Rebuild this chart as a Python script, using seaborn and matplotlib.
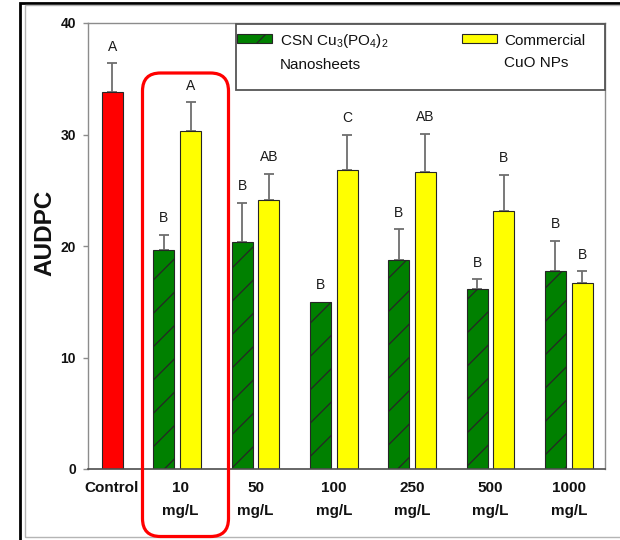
import numpy as np
import pandas as pd
import matplotlib
matplotlib.use("Agg")
import matplotlib.pyplot as plt
import seaborn as sns
from matplotlib.patches import Rectangle, FancyBboxPatch, Patch
from matplotlib.legend_handler import HandlerPatch
from matplotlib.transforms import IdentityTransform, ScaledTranslation

# ---------------- data ----------------
categories = ["Control", "10\nmg/L", "50\nmg/L", "100\nmg/L", "250\nmg/L", "500\nmg/L", "1000\nmg/L"]
series_names = ["CSN Cu$_3$(PO$_4$)$_2$\nNanosheets", "Commercial\nCuO NPs"]

control_value = 33.8
control_err = 2.6
control_letter = "A"

csn_values = [19.6, 20.4, 15.0, 18.75, 16.1, 17.75]
csn_err = [1.4, 3.5, 0.0, 2.75, 0.9, 2.7]
csn_letters = ["B", "B", "B", "B", "B", "B"]

cuo_values = [30.3, 24.1, 26.8, 26.6, 23.1, 16.65]
cuo_err = [2.6, 2.4, 3.2, 3.45, 3.3, 1.1]
cuo_letters = ["A", "AB", "C", "AB", "B", "B"]

y_ticks = [0, 10, 20, 30, 40]

# colours
GREEN = "#008000"
YELLOW = "#FFFF00"
RED = "#FF0000"

# ---------------- table ----------------
rows = [{"Concentration": categories[0], "Treatment": series_names[1],
         "AUDPC": control_value, "err": control_err, "letter": control_letter}]
for i, c in enumerate(categories[1:]):
    rows.append({"Concentration": c, "Treatment": series_names[0],
                 "AUDPC": csn_values[i], "err": csn_err[i], "letter": csn_letters[i]})
    rows.append({"Concentration": c, "Treatment": series_names[1],
                 "AUDPC": cuo_values[i], "err": cuo_err[i], "letter": cuo_letters[i]})
df = pd.DataFrame(rows)

sns.set_style("white")
plt.rcParams["font.family"] = ["Liberation Sans", "DejaVu Sans"]
plt.rcParams["mathtext.fontset"] = "custom"
plt.rcParams["mathtext.rm"] = "Liberation Sans"
plt.rcParams["mathtext.it"] = "Liberation Sans:italic"
plt.rcParams["mathtext.bf"] = "Liberation Sans:bold"
plt.rcParams["mathtext.default"] = "rm"
plt.rcParams["hatch.linewidth"] = 0.9

fig = plt.figure(figsize=(6.2, 5.4), dpi=100)
ax = fig.add_axes([88 / 620, 1 - 469 / 540, (605 - 88) / 620, (469 - 23) / 540])

sns.barplot(data=df, x="Concentration", y="AUDPC", hue="Treatment",
            order=categories, hue_order=series_names,
            palette={series_names[0]: GREEN, series_names[1]: YELLOW},
            saturation=1, width=0.68, gap=0.21, dodge=True, errorbar=None,
            edgecolor="#262626", linewidth=0.8, legend=False, ax=ax, zorder=2)

# identify bars, colour control, hatch CSN, add error bars + letters
for p in ax.patches:
    w = p.get_width()
    if w <= 0:
        continue
    cx = p.get_x() + w / 2
    idx = int(round(cx))
    h = p.get_height()
    if idx == 0:
        p.set_facecolor(RED)
        err, letter = control_err, control_letter
    elif cx < idx:
        p.set_hatch("/")
        err, letter = csn_err[idx - 1], csn_letters[idx - 1]
    else:
        err, letter = cuo_err[idx - 1], cuo_letters[idx - 1]
    if err > 0:
        ax.errorbar(cx, h, yerr=[[0], [err]], fmt="none", ecolor="#6e6e6e",
                    elinewidth=1.3, capsize=3.8, capthick=1.3, zorder=1)
    ax.annotate(letter, (cx, h + err), xytext=(0, 9), textcoords="offset points",
                ha="center", va="baseline", fontsize=10, color="#1a1a1a")

ax.set_xlim(-0.14, 6.463)
ax.set_ylim(0, 40)
ax.set_yticks(y_ticks)
ax.set_xlabel("")
ax.set_ylabel("AUDPC", fontsize=17.5, fontweight="bold", color="#111111")
ax.yaxis.set_label_coords(-0.061, 0.53)

ax.tick_params(axis="x", length=0, pad=9, labelsize=11, labelcolor="#111111")
ax.tick_params(axis="y", length=3.6, width=1, color="#8c8c8c", pad=5,
               labelsize=10, labelcolor="#111111", left=True)
xlabels = ax.get_xticklabels()
for t in xlabels:
    t.set_fontweight("bold")
    t.set_linespacing(1.75)
# the Control label sits under the red bar, slightly right of the group centre
xlabels[0].set_transform(xlabels[0].get_transform()
                         + ScaledTranslation(0.125, 0, fig.dpi_scale_trans))
xlabels[1].set_transform(xlabels[1].get_transform()
                         + ScaledTranslation(0.03, 0, fig.dpi_scale_trans))
for t in ax.get_yticklabels():
    t.set_fontweight("bold")

for s in ["left", "right", "top"]:
    ax.spines[s].set_color("#8c8c8c")
    ax.spines[s].set_linewidth(1.0)
ax.spines["bottom"].set_color("#4d4d4d")
ax.spines["bottom"].set_linewidth(1.2)

# legend frame + legend
ax.add_patch(Rectangle((0.286, (469 - 90) / 446), 1 - 0.286, (90 - 24) / 446,
                       transform=ax.transAxes, facecolor="white", edgecolor="#555555",
                       lw=1.3, zorder=4, clip_on=False))


def shifted_patch(legend, orig_handle, xdescent, ydescent, width, height, fontsize):
    return Rectangle((-xdescent, -ydescent + 0.88 * fontsize), width, height)


handles = [Patch(facecolor=GREEN, edgecolor="#262626", hatch="/", lw=0.8),
           Patch(facecolor=YELLOW, edgecolor="#262626", lw=0.8)]
leg = ax.legend(handles, series_names, loc="upper left", bbox_to_anchor=(0.288, 0.979),
                ncol=2, frameon=False, borderpad=0, borderaxespad=0,
                handlelength=2.3, handleheight=0.52, handletextpad=0.5,
                columnspacing=4.8, fontsize=11,
                handler_map={Patch: HandlerPatch(patch_func=shifted_patch)})
leg.set_zorder(5)
for t in leg.get_texts():
    t.set_linespacing(1.65)
    t.set_color("#111111")

# figure frames
fig.add_artist(Rectangle((20, -5), 610, 542, transform=IdentityTransform(),
                         fill=False, edgecolor="black", lw=2))
fig.add_artist(Rectangle((25, 3), 610, 532, transform=IdentityTransform(),
                         fill=False, edgecolor="#b5b5b5", lw=1))

# red highlight box around 10 mg/L
fig.add_artist(FancyBboxPatch((142.5, 3.5), 86, 463.5,
                              boxstyle="round,pad=0,rounding_size=18",
                              transform=IdentityTransform(), fill=False,
                              edgecolor=RED, lw=2.3, zorder=10))

fig.savefig("out.png", dpi=100)
